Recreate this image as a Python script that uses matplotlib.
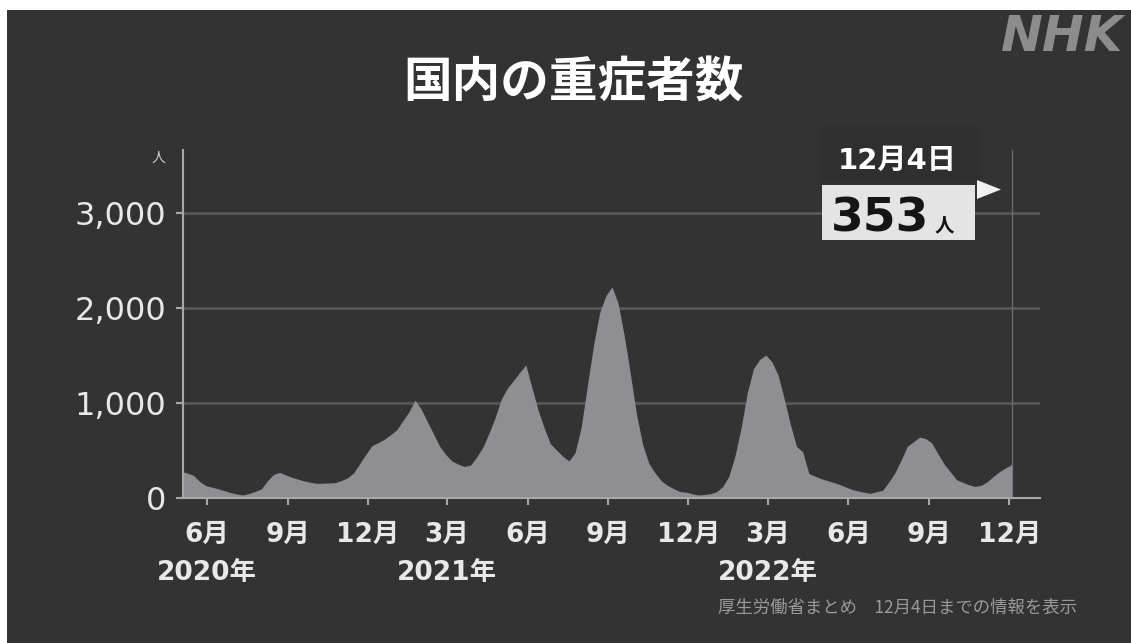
import matplotlib
matplotlib.use("Agg")
import matplotlib.pyplot as plt
import matplotlib.dates as mdates
from matplotlib.patches import Rectangle, Polygon
import pandas as pd

plt.rcParams["font.family"] = ["DejaVu Sans", "Noto Sans CJK JP"]

# weekly severe-case counts in Japan, from 2020-05-03 to 2022-12-04
start = "2020-05-03"
severe = [
    280, 262, 238, 173, 130, 114, 97, 77, 57, 43,
    32, 47, 70, 95, 180, 248, 270, 242, 217, 198,
    179, 165, 154, 156, 158, 161, 183, 211, 263, 361,
    459, 551, 583, 618, 665, 716, 811, 907, 1030, 935,
    804, 675, 544, 457, 389, 357, 332, 345, 430, 532,
    680, 843, 1039, 1156, 1237, 1321, 1400, 1160, 925, 735,
    570, 505, 440, 390, 476, 744, 1178, 1605, 1950, 2128,
    2223, 2048, 1708, 1303, 878, 560, 365, 264, 182, 133,
    100, 68, 62, 45, 32, 37, 45, 66, 120, 228,
    443, 741, 1109, 1360, 1458, 1505, 1433, 1294, 1044, 774,
    543, 487, 258, 230, 204, 184, 164, 142, 116, 90,
    74, 61, 49, 66, 82, 169, 267, 400, 544, 592,
    641, 625, 577, 463, 355, 275, 193, 165, 139, 122,
    133, 172, 227, 278, 318, 353,
]
dates = pd.date_range(start, periods=len(severe), freq="7D")

month_ticks = ["2020-06-01", "2020-09-01", "2020-12-01", "2021-03-01",
               "2021-06-01", "2021-09-01", "2021-12-01", "2022-03-01",
               "2022-06-01", "2022-09-01", "2022-12-01"]
year_labels = [("2020-06-01", "2020年"), ("2021-03-01", "2021年"),
               ("2022-03-01", "2022年")]
y_ticks = [0, 1000, 2000, 3000]

BG = "#333333"
FILL = "#8f8f93"
AXIS = "#a8a8a8"
GRID = "#575757"
TEXT = "#e8e8e8"

W, H = 1131, 643


def fx(x):
    return x / W


def fy(y):
    return 1 - y / H


fig = plt.figure(figsize=(W / 100, H / 100), dpi=100, facecolor="white")
fig.patches.append(Rectangle((fx(7), 0), 1, fy(10), transform=fig.transFigure,
                             facecolor=BG, edgecolor="none", zorder=-10))

ax = fig.add_axes([fx(183), fy(498), 857 / W, 348 / H])
ax.set_facecolor("none")

ax.fill_between(dates, severe, color=FILL, linewidth=0, zorder=2)
ax.axvline(dates[-1], color="#6a6a6a", linewidth=1, zorder=1)

ax.set_xlim(pd.Timestamp("2020-05-05"), pd.Timestamp("2023-01-05"))
ax.set_ylim(0, 3663)

ax.set_axisbelow(True)
ax.yaxis.grid(True, color=GRID, linewidth=2)
for side in ["top", "right"]:
    ax.spines[side].set_visible(False)
for side in ["left", "bottom"]:
    ax.spines[side].set_color(AXIS)
    ax.spines[side].set_linewidth(1.5)

ax.set_yticks(y_ticks)
ax.set_yticklabels([f"{v:,}" for v in y_ticks])
ax.tick_params(axis="y", length=5, width=1.5, color=AXIS, pad=7,
               labelsize=23, labelcolor=TEXT)

ticks = pd.to_datetime(month_ticks)
ax.set_xticks(ticks)
ax.set_xticklabels([f"{d.month}月" for d in ticks], fontweight="bold")
ax.tick_params(axis="x", length=5, width=1.5, color=AXIS, pad=12,
               labelsize=19, labelcolor=TEXT)

for d, label in year_labels:
    ax.text(mdates.date2num(pd.Timestamp(d)), -0.2155, label,
            transform=ax.get_xaxis_transform(), ha="center", va="center",
            fontsize=19, fontweight="bold", color=TEXT)

# unit label above the y axis
fig.text(fx(158), fy(158), "人", fontsize=10, color="#d0d0d0",
         ha="center", va="center", family="Noto Sans CJK JP")

fig.text(fx(573), fy(83), "国内の重症者数", ha="center", va="center",
         fontsize=35, fontweight="bold", color="white",
         family="Noto Sans CJK JP")

fig.text(fx(1062), fy(37), "NHK", ha="center", va="center", fontsize=36,
         fontweight="bold", style="italic", color="#8c8c8c")

# latest value callout
last = dates[-1]
fig.patches.append(Rectangle((fx(820), fy(183)), 160 / W, 56 / H,
                             transform=fig.transFigure, facecolor="#2f2f2f",
                             edgecolor="none", zorder=3))
fig.patches.append(Rectangle((fx(822), fy(240)), 153 / W, 55 / H,
                             transform=fig.transFigure, facecolor="#e4e4e4",
                             edgecolor="none", zorder=3))
fig.patches.append(Polygon([(fx(977), fy(180)), (fx(977), fy(199)),
                            (fx(1001), fy(189.5))], closed=True,
                           transform=fig.transFigure, facecolor="#f2f2f2",
                           edgecolor="none", zorder=3))
fig.text(fx(897), fy(161), f"{last.month}月{last.day}日", ha="center",
         va="center", fontsize=21, fontweight="bold", color="white", zorder=4)
fig.text(fx(831), fy(231), f"{severe[-1]:,}", ha="left", va="baseline",
         fontsize=34, fontweight="bold", color="#151515", zorder=4)
fig.text(fx(935), fy(231), "人", ha="left", va="baseline", fontsize=14,
         fontweight="bold", color="#151515", family="Noto Sans CJK JP",
         zorder=4)

fig.text(fx(898), fy(608),
         f"厚生労働省まとめ　{last.month}月{last.day}日までの情報を表示",
         ha="center", va="center", fontsize=12.5, color="#9a9a9a",
         family="Noto Sans CJK JP")

fig.savefig("out.png", dpi=100, facecolor=fig.get_facecolor())
